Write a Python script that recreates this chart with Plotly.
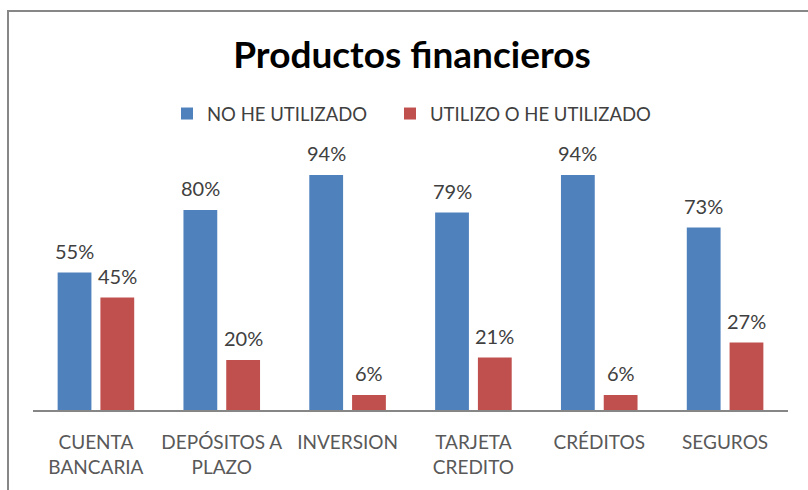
import plotly.graph_objects as go

categories = ["CUENTA<br>BANCARIA", "DEPÓSITOS A<br>PLAZO", "INVERSION", "TARJETA<br>CREDITO", "CRÉDITOS", "SEGUROS"]
series_names = ["NO HE UTILIZADO", "UTILIZO O HE UTILIZADO"]
no_he_utilizado = [55, 80, 94, 79, 94, 73]
utilizo = [45, 20, 6, 21, 6, 27]
colors = ["#4F81BD", "#C0504D"]

FONT = "Lato"
W, H = 808, 490
ML, MR, MT, MB = 33, 20, 160, 80
PW = W - ML - MR
PH = H - MT - MB

fig = go.Figure()
for name, vals, col, lg in zip(series_names, [no_he_utilizado, utilizo], colors, ["legend", "legend2"]):
    fig.add_trace(go.Bar(
        x=categories, y=vals, name=name, legend=lg,
        marker=dict(color=col, line=dict(color=col, width=0)),
    ))

# data labels above bars
slot = (1 - 0.32) / 2  # width of one bar slot in category units
for i, vals in enumerate([no_he_utilizado, utilizo]):
    off = (i - 0.5) * slot
    for j, v in enumerate(vals):
        fig.add_annotation(
            x=j + off, y=v, xref="x", yref="y", text=f"{v}%",
            showarrow=False, yanchor="middle", yshift=22,
            font=dict(family=FONT, size=20, color="#404040"),
        )

legend_common = dict(orientation="h", xanchor="left",
                     y=(H - MB - 114) / PH, yanchor="middle",
                     font=dict(family=FONT, size=18.5, color="#404040"),
                     bgcolor="rgba(0,0,0,0)")

fig.update_layout(
    width=W, height=H,
    margin=dict(l=ML, r=MR, t=MT, b=MB),
    paper_bgcolor="white", plot_bgcolor="white",
    barmode="group", bargap=0.32, bargroupgap=0.21,
    title=dict(text="<b>Productos financieros</b>", x=412 / W, xanchor="center",
               y=1 - 55 / H, yanchor="middle",
               font=dict(family=FONT, size=37, color="#000000")),
    legend=dict(x=(167 - ML) / PW, **legend_common),
    legend2=dict(x=(390 - ML) / PW, **legend_common),
    showlegend=True,
)
fig.update_xaxes(showline=True, linecolor="#868686", linewidth=2, ticks="",
                 showgrid=False, ticklabelstandoff=14,
                 tickfont=dict(family=FONT, size=19, color="#595959"))
fig.update_yaxes(visible=False, range=[0, 100])

fig.add_shape(type="rect", xref="paper", yref="paper",
              x0=(8 - ML) / PW, x1=(W + 10 - ML) / PW,
              y0=-(MB + 20) / PH, y1=(H - MB - 11) / PH,
              line=dict(color="#878787", width=2), fillcolor="rgba(0,0,0,0)", layer="below")

fig.write_html("out.html", config={"displayModeBar": False},
               post_script="document.body.style.margin='0px';")
